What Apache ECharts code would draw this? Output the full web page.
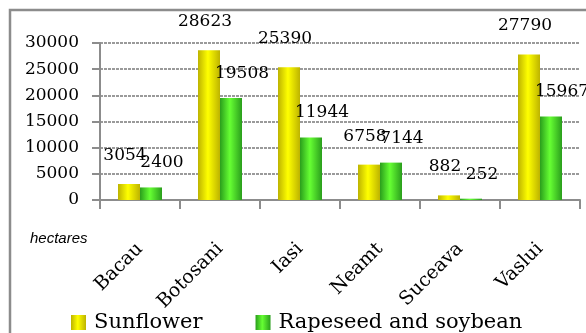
<!DOCTYPE html>
<html><head><meta charset="utf-8">
<script src="https://cdn.jsdelivr.net/npm/echarts@6/dist/echarts.min.js"></script>
<style>html,body{margin:0;padding:0;background:#fff}#c{width:586px;height:333px}</style>
</head><body><div id="c"></div>
<script>
const categories = ['Bacau','Botosani','Iasi','Neamt','Suceava','Vaslui'];
const sunflower = [3054, 28623, 25390, 6758, 882, 27790];
const rapeseed = [2400, 19508, 11944, 7144, 252, 15967];
const yTicks = [0, 5000, 10000, 15000, 20000, 25000, 30000];
const seriesNames = ['Sunflower', 'Rapeseed and soybean'];

const serif = 'DejaVu Serif';
function grad(dark, light){
  return {type:'linear',x:0,y:0,x2:1,y2:0,colorStops:[
    {offset:0,color:dark},{offset:0.45,color:light},{offset:1,color:dark}]};
}
const chart = echarts.init(document.getElementById('c'));
chart.setOption({
  animation:false,
  grid:{left:100,right:6,top:43,bottom:133},
  graphic:[
    {type:'rect',shape:{x:10,y:10,width:600,height:400},style:{fill:'none',stroke:'#8c8c8c',lineWidth:2.5},silent:true},
    {type:'text',left:30,top:231,style:{text:'hectares',font:'italic 15px "Liberation Sans"',fill:'#000'}}
  ],
  legend:{left:66,top:307,itemWidth:15,itemHeight:15,itemGap:53,icon:'rect',
    textStyle:{fontFamily:serif,fontSize:21,color:'#000',padding:[0,0,0,3]},
    data:seriesNames},
  xAxis:{type:'category',data:categories,
    axisLine:{lineStyle:{color:'#8c8c8c',width:2}},
    axisTick:{show:true,length:9,lineStyle:{color:'#8c8c8c',width:2}},
    axisLabel:{rotate:45,fontFamily:serif,fontSize:19,color:'#000',margin:46,interval:0}},
  yAxis:{type:'value',min:0,max:30000,interval:5000,
    axisLine:{show:true,lineStyle:{color:'#8c8c8c',width:2}},
    axisTick:{show:true,length:8,lineStyle:{color:'#8c8c8c',width:2}},
    splitLine:{lineStyle:{color:'#9a9a9a',width:2,type:[3,1]}},
    axisLabel:{fontFamily:serif,fontSize:17,color:'#000',margin:21,
      formatter:v=>yTicks.includes(v)?String(v):''}},
  series:[
    {name:seriesNames[0],type:'bar',data:sunflower,barWidth:22,barGap:'0%',
     itemStyle:{color:grad('#bdb300','#ffff00')},
     label:{show:true,position:'top',distance:20,offset:[-4,0],fontFamily:serif,fontSize:17,color:'#000'}},
    {name:seriesNames[1],type:'bar',data:rapeseed,barWidth:22,barGap:'0%',
     itemStyle:{color:grad('#2a9e1c','#66ff33')},
     label:{show:true,position:'top',distance:16,offset:[11,0],fontFamily:serif,fontSize:17,color:'#000'}}
  ]
});
</script></body></html>
